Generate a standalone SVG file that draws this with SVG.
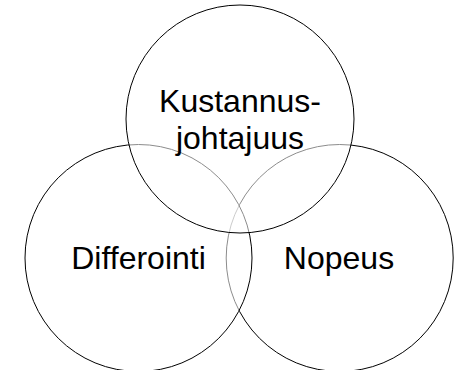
<svg xmlns="http://www.w3.org/2000/svg" width="456" height="370" viewBox="0 0 456 370">
<style>
.c{fill:#fff;fill-opacity:0.55;stroke:#000;stroke-width:1}
.t{font-family:"Liberation Sans",Arial,sans-serif;font-size:32px;fill:#000;text-anchor:middle}
</style>
<rect width="456" height="370" fill="#fff"/>
<g id="nopeus"><circle class="c" cx="339.7" cy="258" r="113.5"/></g>
<g id="differointi"><circle class="c" cx="138.5" cy="258" r="113.5"/></g>
<g id="kustannusjohtajuus"><circle class="c" cx="240" cy="119" r="114"/></g>
<g id="labels">
<text class="t" x="240" y="112">Kustannus-</text>
<text class="t" x="240" y="149">johtajuus</text>
<text class="t" x="138.5" y="269">Differointi</text>
<text class="t" x="339" y="269">Nopeus</text>
</g>
<g id="connectors"/>
</svg>
